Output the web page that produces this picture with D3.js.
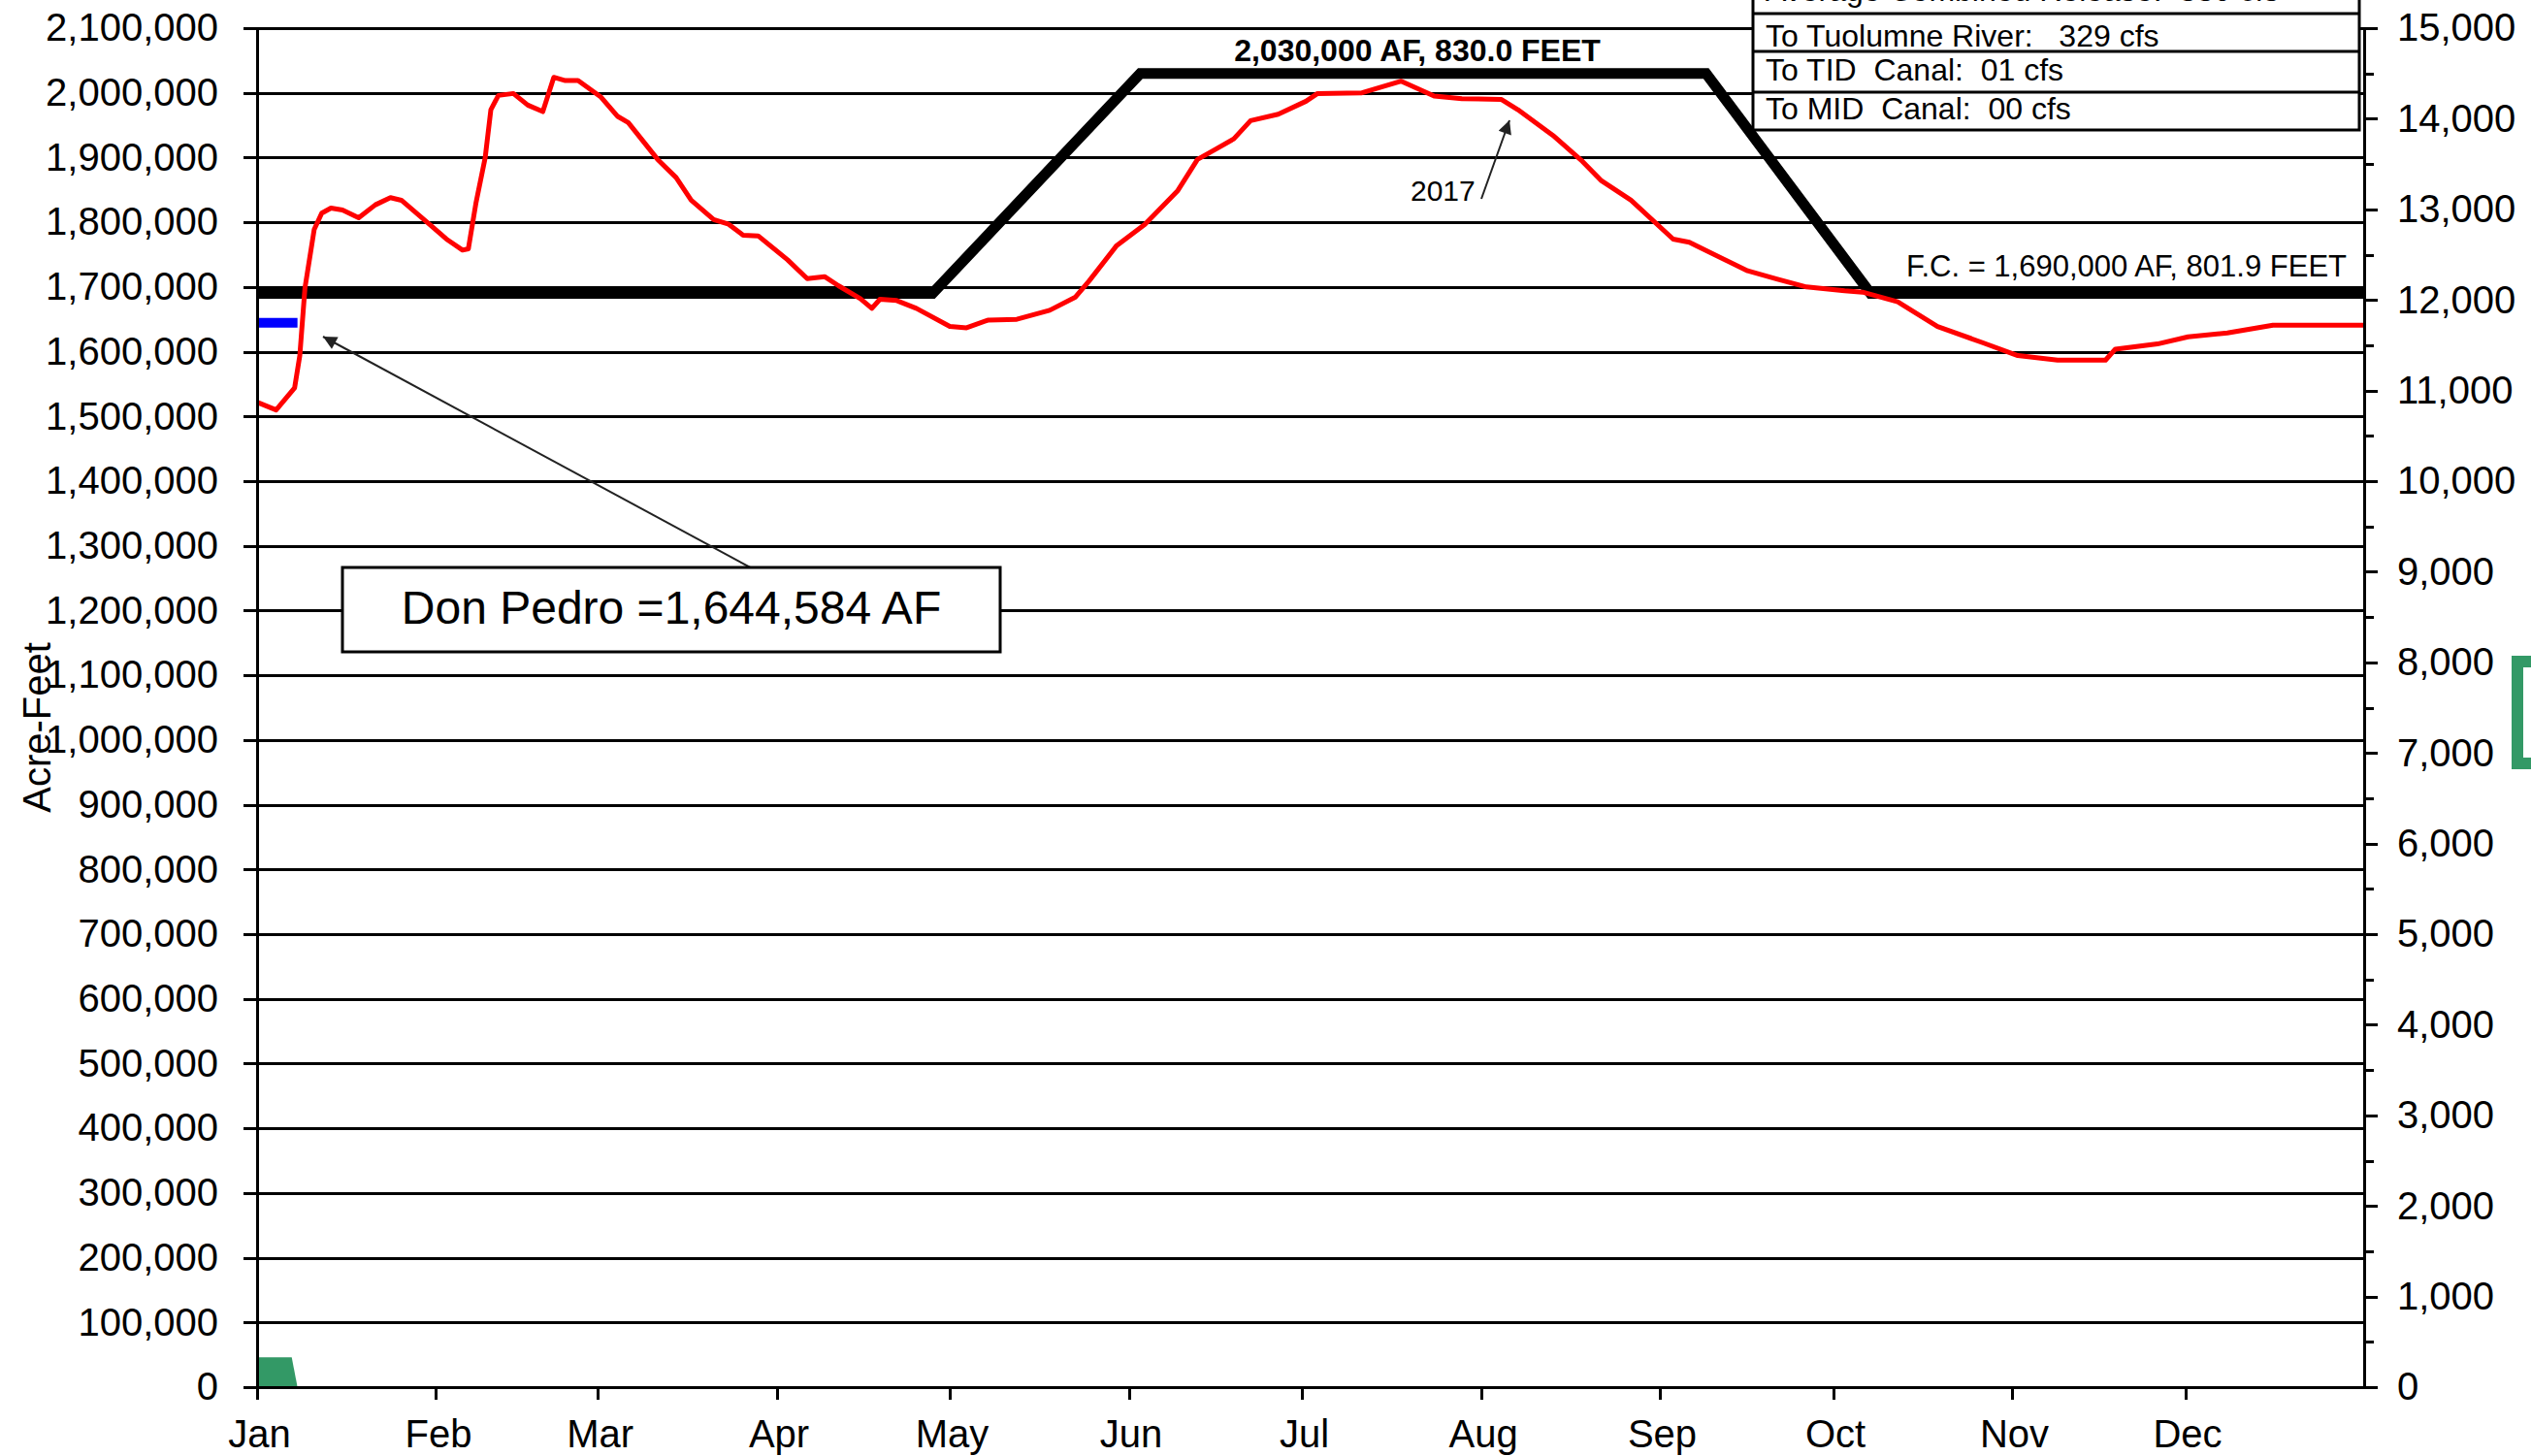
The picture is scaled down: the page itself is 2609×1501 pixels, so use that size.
<!DOCTYPE html>
<html>
<head>
<meta charset="utf-8">
<script src="https://cdn.jsdelivr.net/npm/d3@7"></script>
<style>
  html, body { margin: 0; padding: 0; background: #fff; }
  svg { display: block; }
  text { font-family: "Liberation Sans", Arial, sans-serif; fill: #000; }
</style>
</head>
<body>
<svg id="chart" width="2609" height="1501"></svg>
<script>
// ---------- DATA ----------
// Month labels and their first day-of-year (Jan 1 = day 0)
const monthLabels = ["Jan","Feb","Mar","Apr","May","Jun","Jul","Aug","Sep","Oct","Nov","Dec"];
const monthStartDays = [0,31,59,90,120,151,181,212,243,273,304,334];

// Left axis (acre-feet) tick values
const leftTicks = d3.range(0, 2100001, 100000);
// Right axis (cfs) tick values
const rightTicks = d3.range(0, 15001, 1000);
const rightMinorTicks = d3.range(500, 15000, 1000);

// 2017 storage (red line): day-of-year and acre-feet
const storageDay = [0,3.3,6.5,7.4,8.3,9.9,11.2,12.8,14.8,17.6,20.5,23.1,25,29.6,32.8,35.6,36.6,37.9,39.5,40.5,41.8,44.4,46.9,49.5,51.4,53.4,55.6,59.5,62.4,64.3,69.4,72.6,75.2,79.1,81.7,84.2,86.8,91.9,95.3,98.3,100.7,104.5,106.5,107.9,110.8,114.2,120,122.9,126.7,131.6,137.3,141.7,144.1,148.9,153.8,159.5,162.9,165.3,169.2,172.1,176.9,181.7,183.7,191.4,198.2,203.9,208.7,215.5,218.4,224.5,229.6,232.9,238,245.3,248.1,258.2,263.4,268.4,275,278.1,284.2,291.1,298.9,305,311.9,320.2,321.9,329.2,334.5,341.3,349.2,365];
const storageAF = [1522000,1510000,1544000,1594000,1699000,1789000,1814000,1822000,1819000,1807000,1827000,1838000,1834000,1799000,1774000,1757000,1759000,1829000,1899000,1974000,1996000,1999000,1981000,1971000,2024000,2019000,2019000,1994000,1964000,1954000,1897000,1869000,1834000,1804000,1797000,1780000,1779000,1742000,1713000,1716000,1702000,1682000,1667000,1681000,1679000,1667000,1639000,1637000,1649000,1650000,1664000,1684000,1709000,1764000,1797000,1849000,1897000,1909000,1929000,1957000,1967000,1987000,1999000,2000000,2018000,1995000,1991000,1990000,1974000,1934000,1894000,1864000,1834000,1774000,1769000,1725000,1712000,1700000,1694000,1692000,1677000,1639000,1614000,1594000,1587000,1587000,1604000,1612000,1623000,1629000,1641000,1641000];

// Flood-control rule curve (thick black line)
const ruleDay = [0,117,153,251,279.5,365];
const ruleAF  = [1690000,1690000,2030000,2030000,1690000,1690000];

// Current storage (blue)
const currentDay = [0,7];
const currentAF  = [1644584,1644584];

// Combined release, cfs (green area, right axis)
const releaseDay = [0,1,2,3,4,5,6,7];
const releaseCfs = [330,330,330,330,330,330,330,0];

// Info box text rows
const infoRows = ["Average Combined Release:  330 cfs","To Tuolumne River:   329 cfs","To TID  Canal:  01 cfs","To MID  Canal:  00 cfs"];

// ---------- CHART ----------
const svg = d3.select("#chart");
const L = 265, R = 2437, T = 29, B = 1430;
const x  = d3.scaleLinear().domain([0,365]).range([L,R]);
const yL = d3.scaleLinear().domain([0,2100000]).range([B,T]);
const yR = d3.scaleLinear().domain([0,15000]).range([B,T]);

// gridlines
svg.append("g").selectAll("line").data(leftTicks).join("line")
  .attr("x1", L).attr("x2", R)
  .attr("y1", d => Math.round(yL(d))).attr("y2", d => Math.round(yL(d)))
  .attr("stroke", "#000").attr("stroke-width", 3).attr("shape-rendering","crispEdges");

// rule curve
const rulePts = ruleDay.map((d,i)=>({day:d, v:ruleAF[i]}));
svg.append("path").datum(rulePts)
  .attr("d", d3.line().x(d=>x(d.day)).y(d=>yL(d.v)))
  .attr("fill","none").attr("stroke","#000").attr("stroke-width",11)
  .attr("stroke-linejoin","miter");

// release area (green)
const relPts = releaseDay.map((d,i)=>({day:d, v:releaseCfs[i]}));
svg.append("path").datum(relPts)
  .attr("d", d3.area().x(d=>x(d.day)).y0(yR(0)).y1(d=>yR(d.v)))
  .attr("fill","#339966");

// red storage line
const stPts = storageDay.map((d,i)=>({day:d, v:storageAF[i]}));
svg.append("path").datum(stPts)
  .attr("d", d3.line().x(d=>x(d.day)).y(d=>yL(d.v)))
  .attr("fill","none").attr("stroke","#ff0000").attr("stroke-width",5)
  .attr("stroke-linejoin","round");

// blue current storage
const curPts = currentDay.map((d,i)=>({day:d, v:currentAF[i]}));
svg.append("path").datum(curPts)
  .attr("d", d3.line().x(d=>x(d.day)).y(d=>yL(d.v)))
  .attr("fill","none").attr("stroke","#0000ff").attr("stroke-width",10);

// axes
const fontPx = "40px";
const gL = svg.append("g").attr("transform",`translate(${L},0)`)
  .call(d3.axisLeft(yL).tickValues(leftTicks).tickFormat(d3.format(",")).tickSize(14).tickPadding(26));
const gR = svg.append("g").attr("transform",`translate(${R},0)`)
  .call(d3.axisRight(yR).tickValues(rightTicks).tickFormat(d3.format(",")).tickSize(14).tickPadding(20));
svg.append("g").attr("transform",`translate(${R},0)`)
  .call(d3.axisRight(yR).tickValues(rightMinorTicks).tickFormat("").tickSize(10))
  .select(".domain").remove();
const gB = svg.append("g").attr("transform",`translate(0,${B})`)
  .call(d3.axisBottom(x).tickValues(monthStartDays).tickFormat((d,i)=>monthLabels[i]).tickSize(13).tickPadding(21));
gB.selectAll("text").attr("dx", 2);

svg.selectAll(".domain, .tick line").attr("stroke","#000").attr("stroke-width",3).attr("shape-rendering","crispEdges");
svg.selectAll(".tick text").style("font-size", fontPx).style("font-family",'"Liberation Sans", Arial, sans-serif').attr("fill","#000");
gL.select(".domain").attr("d", `M-14,${B}H0V${T}H-14`);
gR.select(".domain").attr("d", `M14,${T}H0V${B}H14`);
gB.select(".domain").attr("d", `M${L},0H${R}`);

// y-axis title
svg.append("text")
  .attr("transform","translate(52,750) rotate(-90)")
  .attr("text-anchor","middle")
  .style("font-size","40px")
  .text("Acre-Feet");

// arrow marker
const defs = svg.append("defs");
defs.append("marker").attr("id","arr")
  .attr("viewBox","0 0 10 10").attr("refX",10).attr("refY",5)
  .attr("markerWidth",18).attr("markerHeight",14).attr("markerUnits","userSpaceOnUse")
  .attr("orient","auto")
  .append("path").attr("d","M0,0L10,5L0,10z").attr("fill","#222");

// Don Pedro arrow + box
svg.append("line").attr("x1",779).attr("y1",588).attr("x2",333).attr("y2",347)
  .attr("stroke","#222").attr("stroke-width",2).attr("marker-end","url(#arr)");
svg.append("rect").attr("x",353).attr("y",585).attr("width",678).attr("height",87)
  .attr("fill","#fff").attr("stroke","#000").attr("stroke-width",3);
svg.append("text").attr("x",692).attr("y",643).attr("text-anchor","middle")
  .style("font-size","48px").text("Don Pedro =1,644,584 AF");

// 2017 label + arrow
svg.append("line").attr("x1",1527).attr("y1",205).attr("x2",1556).attr("y2",124)
  .attr("stroke","#222").attr("stroke-width",2).attr("marker-end","url(#arr)");
svg.append("text").attr("x",1454).attr("y",207).style("font-size","30px").text("2017");

// rule curve labels
svg.append("text").attr("x",1461).attr("y",63).attr("text-anchor","middle")
  .style("font-size","32px").style("font-weight","bold").text("2,030,000 AF, 830.0 FEET");
svg.append("text").attr("x",2419).attr("y",285).attr("text-anchor","end")
  .style("font-size","31px").text("F.C. = 1,690,000 AF, 801.9 FEET");

// info box
const box = svg.append("g");
box.append("rect").attr("x",1807).attr("y",-20).attr("width",625).attr("height",154)
  .attr("fill","#fff").attr("stroke","#000").attr("stroke-width",3);
[14,53,95].forEach(yy => box.append("line").attr("x1",1807).attr("x2",2432).attr("y1",yy).attr("y2",yy)
  .attr("stroke","#000").attr("stroke-width",3));
const rowBase = [1,48,83,123];
infoRows.forEach((t,i)=> box.append("text").attr("x",1820).attr("y",rowBase[i])
  .style("font-size","32px").style("white-space","pre").text(t));

// partial legend at right edge
svg.append("rect").attr("x",2595).attr("y",682).attr("width",40).attr("height",105)
  .attr("fill","#fff").attr("stroke","#339966").attr("stroke-width",12);
</script>
</body>
</html>
